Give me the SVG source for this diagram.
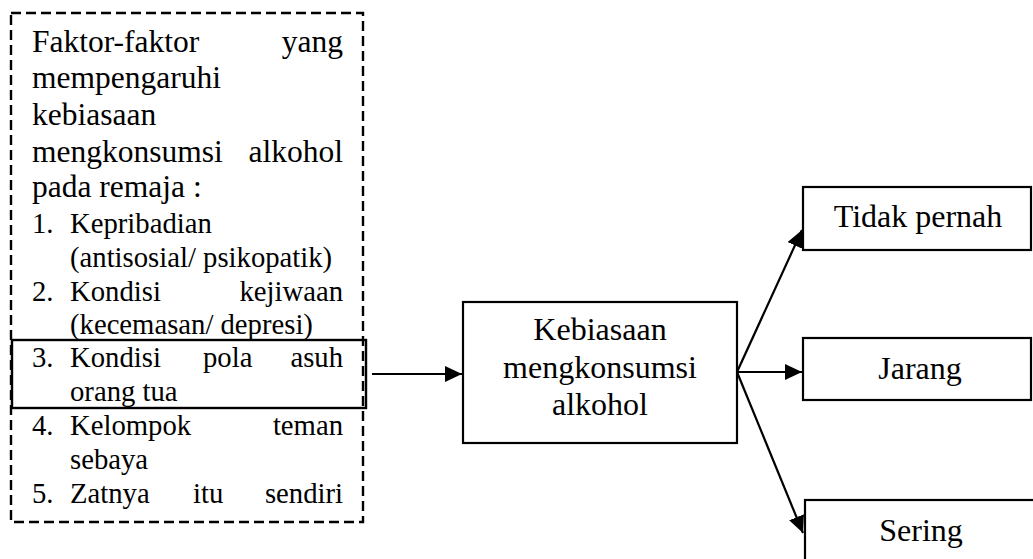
<svg xmlns="http://www.w3.org/2000/svg" width="1033" height="559" viewBox="0 0 1033 559">
  <style>
    text { font-family: "Liberation Serif", "Times New Roman", serif; font-size: 32px; fill: #000; }
    .hd { font-size: 31.5px; }
    .li { font-size: 28.7px; }
    .box { fill: #fff; stroke: #000; stroke-width: 2.2; }
    .hl { fill: none; stroke: #000; stroke-width: 2.4; }
    .dash { fill: none; stroke: #000; stroke-width: 2.4; stroke-dasharray: 10 5; }
    .conn { fill: none; stroke: #000; stroke-width: 2.2; }
    .mid { text-anchor: middle; }
    .end { text-anchor: end; }
  </style>
  <defs>
    <marker id="arrow" markerUnits="userSpaceOnUse" markerWidth="19" markerHeight="17" refX="17" refY="8" orient="auto">
      <path d="M0,0 L17,8 L0,16 Z" fill="#000"/>
    </marker>
  </defs>
  <rect width="1033" height="559" fill="#fff"/>

  <g id="factors">
    <rect class="dash" x="11" y="13" width="352" height="509"/>
    <rect class="hl" x="12" y="340" width="354" height="68"/>
    <g class="hd">
      <text class="hd" x="32" y="52">Faktor-faktor</text>
      <text class="hd end" x="343" y="52">yang</text>
      <text class="hd" x="32" y="88">mempengaruhi</text>
      <text class="hd" x="32" y="125">kebiasaan</text>
      <text class="hd" x="32" y="162">mengkonsumsi</text>
      <text class="hd end" x="343" y="162">alkohol</text>
      <text class="hd" x="32" y="197">pada remaja :</text>
    </g>
    <g class="li">
      <text class="li" x="32" y="233">1.</text>
      <text class="li" x="70" y="233">Kepribadian</text>
      <text class="li" x="70" y="267">(antisosial/ psikopatik)</text>
      <text class="li" x="32" y="301">2.</text>
      <text class="li" x="70" y="301">Kondisi</text>
      <text class="li end" x="343" y="301">kejiwaan</text>
      <text class="li" x="70" y="334">(kecemasan/ depresi)</text>
      <text class="li" x="32" y="367">3.</text>
      <text class="li" x="70" y="367">Kondisi</text>
      <text class="li" x="203" y="367">pola</text>
      <text class="li end" x="343" y="367">asuh</text>
      <text class="li" x="70" y="401">orang tua</text>
      <text class="li" x="32" y="435">4.</text>
      <text class="li" x="70" y="435">Kelompok</text>
      <text class="li end" x="343" y="435">teman</text>
      <text class="li" x="70" y="469">sebaya</text>
      <text class="li" x="32" y="503">5.</text>
      <text class="li" x="70" y="503">Zatnya</text>
      <text class="li" x="193" y="503">itu</text>
      <text class="li end" x="343" y="503">sendiri</text>
    </g>
  </g>

  <g id="habit">
    <rect class="box" x="463" y="302" width="274" height="141"/>
    <text class="mid" x="600" y="340">Kebiasaan</text>
    <text class="mid" x="600" y="378">mengkonsumsi</text>
    <text class="mid" x="600" y="415">alkohol</text>
  </g>

  <g id="never">
    <rect class="box" x="803" y="187" width="228" height="63"/>
    <text class="mid" x="918" y="227">Tidak pernah</text>
  </g>

  <g id="rarely">
    <rect class="box" x="803" y="338" width="228" height="62"/>
    <text class="mid" x="920" y="379">Jarang</text>
  </g>

  <g id="often">
    <rect class="box" x="805" y="500" width="240" height="80"/>
    <text class="mid" x="921" y="541">Sering</text>
  </g>

  <g id="connectors">
    <line class="conn" x1="372" y1="374" x2="462" y2="374" marker-end="url(#arrow)"/>
    <line class="conn" x1="737" y1="372" x2="802" y2="230" marker-end="url(#arrow)"/>
    <line class="conn" x1="737" y1="372" x2="802" y2="372" marker-end="url(#arrow)"/>
    <line class="conn" x1="737" y1="372" x2="803" y2="533" marker-end="url(#arrow)"/>
  </g>
</svg>
